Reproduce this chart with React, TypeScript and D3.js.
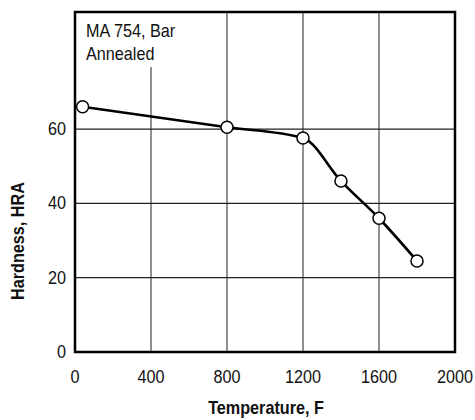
import React from "react";
import * as d3 from "d3";

// Hardness of MA 754 bar (annealed) versus temperature
const temperatures = [40, 800, 1200, 1400, 1600, 1800];
const hardness = [66, 60.5, 57.6, 46, 36, 24.5];

const xTicks = [0, 400, 800, 1200, 1600, 2000];
const yTicks = [0, 20, 40, 60];
const xGrid = [400, 800, 1200, 1600];
const yGrid = [20, 40, 60];

const noteLines = ["MA 754, Bar", "Annealed"];
const xTitle = "Temperature, F";
const yTitle = "Hardness, HRA";

const W = 475;
const H = 420;
const plot = { left: 75, right: 455, top: 12, bottom: 352 };
const FONT = "'Liberation Sans', Arial, Helvetica, sans-serif";
const SX = 0.9; // horizontal squeeze to get a condensed face

type TProps = {
  x: number;
  y: number;
  anchor?: "start" | "middle" | "end";
  bold?: boolean;
  size?: number;
  rotate?: number;
  children: React.ReactNode;
};

function CText({ x, y, anchor = "start", bold = false, size = 18, rotate = 0, children }: TProps) {
  return (
    <text
      transform={`translate(${x},${y}) rotate(${rotate}) scale(${SX},1)`}
      textAnchor={anchor}
      fontFamily={FONT}
      fontWeight={bold ? "bold" : "normal"}
      fontSize={size}
      fill="#111"
    >
      {children}
    </text>
  );
}

export default function App() {
  const x = d3.scaleLinear().domain([0, 2000]).range([plot.left, plot.right]);
  const y = d3.scaleLinear().domain([0, 91.5]).range([plot.bottom, plot.top]);

  const pts: [number, number][] = temperatures.map((t, i) => [t, hardness[i]]);
  const line = d3
    .line<[number, number]>()
    .x((d) => x(d[0]))
    .y((d) => y(d[1]))
    .curve(d3.curveMonotoneX);

  return (
    <svg
      width={W}
      height={H}
      style={{ position: "absolute", left: 0, top: 0, background: "#fff" }}
    >
      <rect width={W} height={H} fill="#fff" />
      {/* grid */}
      {xGrid.map((v) => (
        <line
          key={"gx" + v}
          x1={x(v)}
          x2={x(v)}
          y1={v === 400 ? 67 : plot.top}
          y2={plot.bottom}
          stroke="#222"
          strokeWidth={1}
        />
      ))}
      {yGrid.map((v) => (
        <line
          key={"gy" + v}
          x1={plot.left}
          x2={plot.right}
          y1={y(v)}
          y2={y(v)}
          stroke="#222"
          strokeWidth={1.2}
        />
      ))}
      {/* frame */}
      <rect
        x={plot.left}
        y={plot.top}
        width={plot.right - plot.left}
        height={plot.bottom - plot.top}
        fill="none"
        stroke="#000"
        strokeWidth={2.5}
      />
      {/* data line and markers */}
      <path d={line(pts) ?? ""} fill="none" stroke="#000" strokeWidth={2.6} />
      {pts.map((d, i) => (
        <circle
          key={i}
          cx={x(d[0])}
          cy={y(d[1])}
          r={6}
          fill="#fff"
          stroke="#000"
          strokeWidth={1.5}
        />
      ))}
      {/* tick labels */}
      {xTicks.map((v) => (
        <CText key={"xt" + v} x={x(v)} y={383} anchor="middle">
          {v}
        </CText>
      ))}
      {yTicks.map((v) => (
        <CText key={"yt" + v} x={66} y={y(v) + 6} anchor="end">
          {v}
        </CText>
      ))}
      {/* annotation */}
      {noteLines.map((s, i) => (
        <CText key={s} x={86} y={37 + i * 23}>
          {s}
        </CText>
      ))}
      {/* axis titles */}
      <CText x={266} y={414} anchor="middle" bold>
        {xTitle}
      </CText>
      <CText x={24} y={241} anchor="middle" bold rotate={-90}>
        {yTitle}
      </CText>
    </svg>
  );
}
